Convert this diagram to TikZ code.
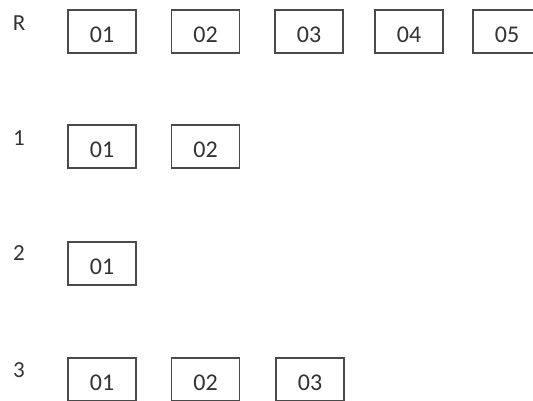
\documentclass[tikz,border=0pt]{standalone}
\usepackage{fontspec}
\setmainfont{Carlito}
\usepackage{xcolor}
\usepackage{tikz}
\usetikzlibrary{positioning}
\definecolor{boxline}{HTML}{4A4A4A}
\definecolor{darktext}{HTML}{333333}

\tikzset{
  cell/.style={draw=boxline, line width=1.2pt, text=darktext,
    minimum width=68pt, minimum height=43pt, inner sep=0pt,
    text height=21pt, text depth=0pt,
    font=\fontsize{24}{28}\selectfont},
  rowlabel/.style={text=darktext, inner sep=0pt,
    font=\fontsize{23}{27}\selectfont}
}

\begin{document}
\begin{tikzpicture}[x=1pt, y=-1pt]
    \clip (0,0) rectangle (533,400);
    \fill[white] (0,0) rectangle (533,400);

    % row R
    \node[rowlabel] (labR) at (19,23) {R};
    \node[cell] (r01) at (102,31.5) {01};
    \node[cell] (r02) at (205.5,31.5) {02};
    \node[cell] (r03) at (309,31.5) {03};
    \node[cell] (r04) at (409,31.5) {04};
    \node[cell] (r05) at (507,31.5) {05};

    % row 1
    \node[rowlabel] (lab1) at (19,138) {1};
    \node[cell] (a01) at (102,146.5) {01};
    \node[cell] (a02) at (205.5,146.5) {02};

    % row 2
    \node[rowlabel] (lab2) at (19,253) {2};
    \node[cell] (b01) at (102,263.5) {01};

    % row 3
    \node[rowlabel] (lab3) at (19,370) {3};
    \node[cell] (c01) at (102,379.5) {01};
    \node[cell] (c02) at (205.5,379.5) {02};
    \node[cell] (c03) at (310,379.5) {03};
  \end{tikzpicture}
\end{document}
